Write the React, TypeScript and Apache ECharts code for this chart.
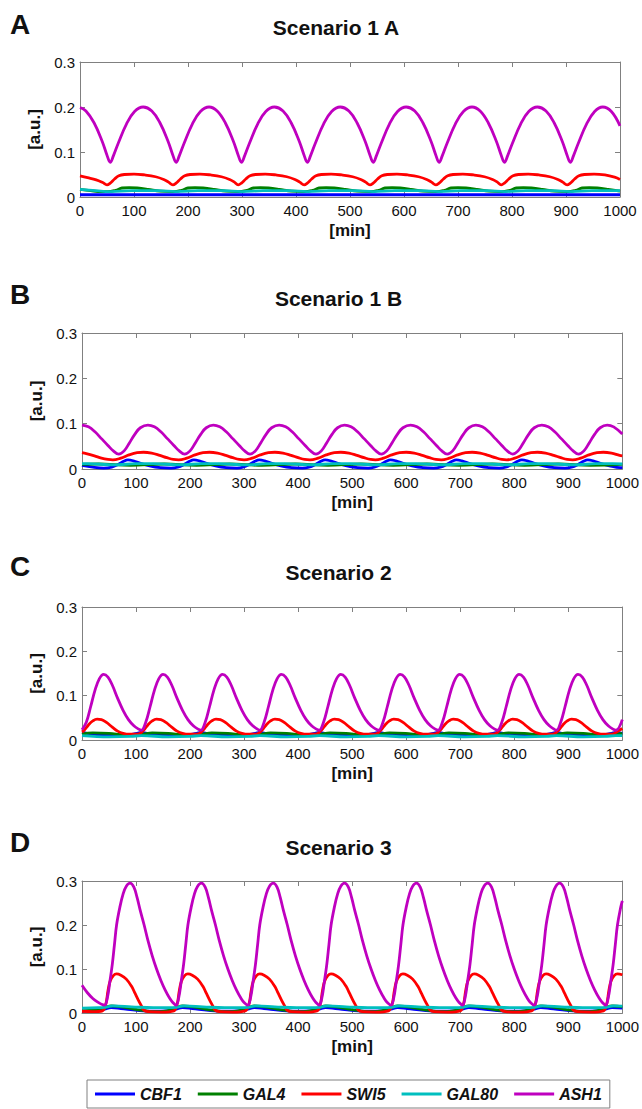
import React, { useEffect, useRef } from "react";
import * as echarts from "echarts";

// ---------- labels ----------
const GENES = ["CBF1", "GAL4", "SWI5", "GAL80", "ASH1"];
const PANEL_LETTERS = ["A", "B", "C", "D"];
const PANEL_TITLES = ["Scenario 1 A", "Scenario 1 B", "Scenario 2", "Scenario 3"];
const X_NAME = "[min]";
const Y_NAME = "[a.u.]";
const X_MIN = 0, X_MAX = 1000, X_STEP = 100;
const Y_MIN = 0, Y_MAX = 0.3, Y_STEP = 0.1;

// ---------- Panel A (Scenario 1 A) ----------
const A_CBF1 = [[0,0.005],[100,0.005],[300,0.005],[500,0.005],[700,0.005],[900,0.005],[1000,0.005]];
const A_GAL4 = [[0,0.017],[20,0.014],[40,0.012],
[51,0.012],[66,0.015],[78,0.020],[91,0.021],[106,0.020],[126,0.017],[148,0.013],
[173,0.012],[188,0.015],[200,0.020],[213,0.021],[228,0.020],[248,0.017],[270,0.013],
[294,0.012],[309,0.015],[321,0.020],[334,0.021],[349,0.020],[369,0.017],[391,0.013],
[416,0.012],[431,0.015],[443,0.020],[456,0.021],[471,0.020],[491,0.017],[513,0.013],
[538,0.012],[553,0.015],[565,0.020],[578,0.021],[593,0.020],[613,0.017],[635,0.013],
[660,0.012],[675,0.015],[687,0.020],[700,0.021],[715,0.020],[735,0.017],[757,0.013],
[781,0.012],[796,0.015],[808,0.020],[821,0.021],[836,0.020],[856,0.017],[878,0.013],
[903,0.012],[918,0.015],[930,0.020],[943,0.021],[958,0.020],[978,0.017],[1000,0.013]];
const A_SWI5 = [[0,0.047],[14,0.043],[30,0.038],[42,0.032],
[50,0.027],[56,0.031],[64,0.040],[72,0.047],[82,0.050],[100,0.051],[120,0.049],[140,0.045],[155,0.039],[164,0.033],
[172,0.027],[178,0.031],[186,0.040],[194,0.047],[204,0.050],[222,0.051],[242,0.049],[262,0.045],[277,0.039],[286,0.033],
[293,0.027],[299,0.031],[307,0.040],[315,0.047],[325,0.050],[343,0.051],[363,0.049],[383,0.045],[398,0.039],[407,0.033],
[415,0.027],[421,0.031],[429,0.040],[437,0.047],[447,0.050],[465,0.051],[485,0.049],[505,0.045],[520,0.039],[529,0.033],
[537,0.027],[543,0.031],[551,0.040],[559,0.047],[569,0.050],[587,0.051],[607,0.049],[627,0.045],[642,0.039],[651,0.033],
[659,0.027],[665,0.031],[673,0.040],[681,0.047],[691,0.050],[709,0.051],[729,0.049],[749,0.045],[764,0.039],[773,0.033],
[780,0.027],[786,0.031],[794,0.040],[802,0.047],[812,0.050],[830,0.051],[850,0.049],[870,0.045],[885,0.039],[894,0.033],
[902,0.027],[908,0.031],[916,0.040],[924,0.047],[934,0.050],[952,0.051],[972,0.049],[990,0.044],[1000,0.039]];
const A_GAL80 = [[0,0.017],[30,0.014],
[56,0.012],[96,0.014],[146,0.014],[178,0.012],[218,0.014],[268,0.014],[299,0.012],[339,0.014],[389,0.014],
[421,0.012],[461,0.014],[511,0.014],[543,0.012],[583,0.014],[633,0.014],[665,0.012],[705,0.014],[755,0.014],
[786,0.012],[826,0.014],[876,0.014],[908,0.012],[948,0.014],[1000,0.014]];
const A_ASH1 = [[0,0.199],[11,0.191],[26,0.165],[41,0.124],[50,0.093],[56,0.077],[62,0.092],[71,0.120],[86,0.162],[101,0.190],[117,0.200],
[133,0.191],[148,0.165],[163,0.124],[172,0.093],[178,0.077],[184,0.092],[193,0.120],[208,0.162],[223,0.190],[239,0.200],
[254,0.191],[269,0.165],[284,0.124],[293,0.093],[299,0.077],[305,0.092],[314,0.120],[329,0.162],[344,0.190],[360,0.200],
[376,0.191],[391,0.165],[406,0.124],[415,0.093],[421,0.077],[427,0.092],[436,0.120],[451,0.162],[466,0.190],[482,0.200],
[498,0.191],[513,0.165],[528,0.124],[537,0.093],[543,0.077],[549,0.092],[558,0.120],[573,0.162],[588,0.190],[604,0.200],
[620,0.191],[635,0.165],[650,0.124],[659,0.093],[665,0.077],[671,0.092],[680,0.120],[695,0.162],[710,0.190],[726,0.200],
[741,0.191],[756,0.165],[771,0.124],[780,0.093],[786,0.077],[792,0.092],[801,0.120],[816,0.162],[831,0.190],[847,0.200],
[863,0.191],[878,0.165],[893,0.124],[902,0.093],[908,0.077],[914,0.092],[923,0.120],[938,0.162],[953,0.190],[968,0.200],
[984,0.190],[1000,0.158]];

// ---------- Panel B (Scenario 1 B) ----------
const B_CBF1 = [[0,0.008],[20,0.004],[40,0.002],[55,0.004],
[67,0.010],[77,0.017],[85,0.020],[95,0.018],[110,0.012],[125,0.007],[145,0.003],[165,0.002],[177,0.004],
[189,0.010],[199,0.017],[207,0.020],[217,0.018],[232,0.012],[247,0.007],[267,0.003],[287,0.002],[298,0.004],
[310,0.010],[320,0.017],[328,0.020],[338,0.018],[353,0.012],[368,0.007],[388,0.003],[408,0.002],[420,0.004],
[432,0.010],[442,0.017],[450,0.020],[460,0.018],[475,0.012],[490,0.007],[510,0.003],[530,0.002],[541,0.004],
[553,0.010],[563,0.017],[571,0.020],[581,0.018],[596,0.012],[611,0.007],[631,0.003],[651,0.002],[663,0.004],
[675,0.010],[685,0.017],[693,0.020],[703,0.018],[718,0.012],[733,0.007],[753,0.003],[773,0.002],[784,0.004],
[796,0.010],[806,0.017],[814,0.020],[824,0.018],[839,0.012],[854,0.007],[874,0.003],[894,0.002],[906,0.004],
[918,0.010],[928,0.017],[936,0.020],[946,0.018],[961,0.012],[976,0.007],[996,0.003],[1000,0.003]];
const B_GAL4 = [[0,0.010],[30,0.011],[90,0.008],[152,0.011],[212,0.008],[273,0.011],[333,0.008],[395,0.011],[455,0.008],
[516,0.011],[576,0.008],[638,0.011],[698,0.008],[759,0.011],[819,0.008],[881,0.011],[941,0.008],[1000,0.010]];
const B_SWI5 = [[0,0.036],[8,0.034],[23,0.029],[36,0.024],[48,0.021],
[57,0.020],[72,0.024],[87,0.031],[102,0.036],[114,0.037],[129,0.035],[144,0.030],[157,0.025],[169,0.021],
[179,0.020],[194,0.024],[209,0.031],[224,0.036],[236,0.037],[251,0.035],[266,0.030],[279,0.025],[291,0.021],
[300,0.020],[315,0.024],[330,0.031],[345,0.036],[357,0.037],[372,0.035],[387,0.030],[400,0.025],[412,0.021],
[422,0.020],[437,0.024],[452,0.031],[467,0.036],[479,0.037],[494,0.035],[509,0.030],[522,0.025],[534,0.021],
[543,0.020],[558,0.024],[573,0.031],[588,0.036],[600,0.037],[615,0.035],[630,0.030],[643,0.025],[655,0.021],
[665,0.020],[680,0.024],[695,0.031],[710,0.036],[722,0.037],[737,0.035],[752,0.030],[765,0.025],[777,0.021],
[786,0.020],[801,0.024],[816,0.031],[831,0.036],[843,0.037],[858,0.035],[873,0.030],[886,0.025],[898,0.021],
[908,0.020],[923,0.024],[938,0.031],[953,0.036],[965,0.037],[980,0.035],[995,0.030],[1000,0.029]];
const B_GAL80 = [[0,0.012],[10,0.012],[60,0.009],[100,0.012],[132,0.012],[182,0.009],[222,0.012],[253,0.012],[303,0.009],
[343,0.012],[375,0.012],[425,0.009],[465,0.012],[496,0.012],[546,0.009],[586,0.012],[618,0.012],[668,0.009],[708,0.012],
[739,0.012],[789,0.009],[829,0.012],[861,0.012],[911,0.009],[951,0.012],[982,0.012],[1000,0.011]];
const B_ASH1 = [[0,0.097],[12,0.093],[24,0.082],[36,0.067],[48,0.052],[58,0.040],[68,0.033],[78,0.040],[88,0.058],[98,0.077],[108,0.091],
[122,0.097],[134,0.093],[146,0.082],[158,0.067],[170,0.052],[180,0.040],[190,0.033],[200,0.040],[210,0.058],[220,0.077],[230,0.091],
[243,0.097],[255,0.093],[267,0.082],[279,0.067],[291,0.052],[301,0.040],[311,0.033],[321,0.040],[331,0.058],[341,0.077],[351,0.091],
[365,0.097],[377,0.093],[389,0.082],[401,0.067],[413,0.052],[423,0.040],[433,0.033],[443,0.040],[453,0.058],[463,0.077],[473,0.091],
[486,0.097],[498,0.093],[510,0.082],[522,0.067],[534,0.052],[544,0.040],[554,0.033],[564,0.040],[574,0.058],[584,0.077],[594,0.091],
[608,0.097],[620,0.093],[632,0.082],[644,0.067],[656,0.052],[666,0.040],[676,0.033],[686,0.040],[696,0.058],[706,0.077],[716,0.091],
[729,0.097],[741,0.093],[753,0.082],[765,0.067],[777,0.052],[787,0.040],[797,0.033],[807,0.040],[817,0.058],[827,0.077],[837,0.091],
[851,0.097],[863,0.093],[875,0.082],[887,0.067],[899,0.052],[909,0.040],[919,0.033],[929,0.040],[939,0.058],[949,0.077],[959,0.091],
[972,0.097],[984,0.093],[1000,0.077]];

// ---------- Panel C (Scenario 2) ----------
const C_CBF1 = [[0,0.017],[10,0.015],[40,0.011],[80,0.011],[102,0.015],[110,0.017],[120,0.015],[150,0.011],[190,0.011],
[212,0.015],[220,0.017],[230,0.015],[260,0.011],[300,0.011],[321,0.015],[329,0.017],[339,0.015],[369,0.011],[409,0.011],
[431,0.015],[439,0.017],[449,0.015],[479,0.011],[519,0.011],[541,0.015],[549,0.017],[559,0.015],[589,0.011],[629,0.011],
[651,0.015],[659,0.017],[669,0.015],[699,0.011],[739,0.011],[761,0.015],[769,0.017],[779,0.015],[809,0.011],[849,0.011],
[870,0.015],[878,0.017],[888,0.015],[918,0.011],[958,0.011],[980,0.015],[988,0.017],[1000,0.015]];
const C_GAL4 = [[0,0.013],[20,0.016],[50,0.015],[80,0.012],[110,0.013],[130,0.016],[160,0.015],[190,0.012],
[220,0.013],[240,0.016],[270,0.015],[300,0.012],[329,0.013],[349,0.016],[379,0.015],[409,0.012],
[439,0.013],[459,0.016],[489,0.015],[519,0.012],[549,0.013],[569,0.016],[599,0.015],[629,0.012],
[659,0.013],[679,0.016],[709,0.015],[739,0.012],[769,0.013],[789,0.016],[819,0.015],[849,0.012],
[878,0.013],[898,0.016],[928,0.015],[958,0.012],[988,0.013],[1000,0.015]];
const C_SWI5 = [[0,0.018],[4,0.022],[12,0.034],[20,0.043],[28,0.047],[36,0.046],[46,0.039],[56,0.029],[66,0.020],[76,0.015],[88,0.013],[100,0.013],
[106,0.014],[114,0.022],[122,0.034],[130,0.043],[138,0.047],[146,0.046],[156,0.039],[166,0.029],[176,0.020],[186,0.015],[198,0.013],[210,0.013],
[216,0.014],[224,0.022],[232,0.034],[240,0.043],[248,0.047],[256,0.046],[266,0.039],[276,0.029],[286,0.020],[296,0.015],[308,0.013],[320,0.013],
[325,0.014],[333,0.022],[341,0.034],[349,0.043],[357,0.047],[365,0.046],[375,0.039],[385,0.029],[395,0.020],[405,0.015],[417,0.013],[429,0.013],
[435,0.014],[443,0.022],[451,0.034],[459,0.043],[467,0.047],[475,0.046],[485,0.039],[495,0.029],[505,0.020],[515,0.015],[527,0.013],[539,0.013],
[545,0.014],[553,0.022],[561,0.034],[569,0.043],[577,0.047],[585,0.046],[595,0.039],[605,0.029],[615,0.020],[625,0.015],[637,0.013],[649,0.013],
[655,0.014],[663,0.022],[671,0.034],[679,0.043],[687,0.047],[695,0.046],[705,0.039],[715,0.029],[725,0.020],[735,0.015],[747,0.013],[759,0.013],
[765,0.014],[773,0.022],[781,0.034],[789,0.043],[797,0.047],[805,0.046],[815,0.039],[825,0.029],[835,0.020],[845,0.015],[857,0.013],[869,0.013],
[874,0.014],[882,0.022],[890,0.034],[898,0.043],[906,0.047],[914,0.046],[924,0.039],[934,0.029],[944,0.020],[954,0.015],[966,0.013],[978,0.013],
[984,0.014],[992,0.020],[1000,0.026]];
const C_GAL80 = [[0,0.010],[50,0.007],[90,0.008],[110,0.010],[160,0.007],[200,0.008],[220,0.010],[270,0.007],[310,0.008],
[329,0.010],[379,0.007],[419,0.008],[439,0.010],[489,0.007],[529,0.008],[549,0.010],[599,0.007],[639,0.008],
[659,0.010],[709,0.007],[749,0.008],[769,0.010],[819,0.007],[859,0.008],[878,0.010],[928,0.007],[968,0.008],[988,0.010],[1000,0.010]];
const C_ASH1 = [[0,0.023],[8,0.040],[16,0.075],[24,0.112],[32,0.138],[40,0.148],[48,0.142],[56,0.124],[66,0.094],[76,0.067],[86,0.046],[96,0.032],[104,0.025],
[110,0.022],[118,0.040],[126,0.075],[134,0.112],[142,0.138],[150,0.148],[158,0.142],[166,0.124],[176,0.094],[186,0.067],[196,0.046],[206,0.032],[214,0.025],
[220,0.022],[228,0.040],[236,0.075],[244,0.112],[252,0.138],[260,0.148],[268,0.142],[276,0.124],[286,0.094],[296,0.067],[306,0.046],[316,0.032],[324,0.025],
[329,0.022],[337,0.040],[345,0.075],[353,0.112],[361,0.138],[369,0.148],[377,0.142],[385,0.124],[395,0.094],[405,0.067],[415,0.046],[425,0.032],[433,0.025],
[439,0.022],[447,0.040],[455,0.075],[463,0.112],[471,0.138],[479,0.148],[487,0.142],[495,0.124],[505,0.094],[515,0.067],[525,0.046],[535,0.032],[543,0.025],
[549,0.022],[557,0.040],[565,0.075],[573,0.112],[581,0.138],[589,0.148],[597,0.142],[605,0.124],[615,0.094],[625,0.067],[635,0.046],[645,0.032],[653,0.025],
[659,0.022],[667,0.040],[675,0.075],[683,0.112],[691,0.138],[699,0.148],[707,0.142],[715,0.124],[725,0.094],[735,0.067],[745,0.046],[755,0.032],[763,0.025],
[769,0.022],[777,0.040],[785,0.075],[793,0.112],[801,0.138],[809,0.148],[817,0.142],[825,0.124],[835,0.094],[845,0.067],[855,0.046],[865,0.032],[873,0.025],
[878,0.022],[886,0.040],[894,0.075],[902,0.112],[910,0.138],[918,0.148],[926,0.142],[934,0.124],[944,0.094],[954,0.067],[964,0.046],[974,0.032],[982,0.025],
[988,0.022],[1000,0.046]];

// ---------- Panel D (Scenario 3) ----------
const D_CBF1 = [[0,0.004],[25,0.005],
[42,0.009],[54,0.012],[72,0.010],[102,0.006],[132,0.004],[157,0.005],[170,0.008],
[174,0.009],[186,0.012],[204,0.010],[234,0.006],[264,0.004],[289,0.005],[302,0.008],
[307,0.009],[319,0.012],[337,0.010],[367,0.006],[397,0.004],[422,0.005],[435,0.008],
[439,0.009],[451,0.012],[469,0.010],[499,0.006],[529,0.004],[554,0.005],[567,0.008],
[572,0.009],[584,0.012],[602,0.010],[632,0.006],[662,0.004],[687,0.005],[700,0.008],
[704,0.009],[716,0.012],[734,0.010],[764,0.006],[794,0.004],[819,0.005],[832,0.008],
[837,0.009],[849,0.012],[867,0.010],[897,0.006],[927,0.004],[952,0.005],[965,0.008],
[969,0.009],[981,0.012],[1000,0.011]];
const D_GAL4 = [[0,0.005],[24,0.007],
[42,0.012],[54,0.016],[67,0.015],[87,0.011],[112,0.006],[137,0.003],[157,0.005],[169,0.009],
[174,0.012],[186,0.016],[199,0.015],[219,0.011],[244,0.006],[269,0.003],[289,0.005],[301,0.009],
[307,0.012],[319,0.016],[332,0.015],[352,0.011],[377,0.006],[402,0.003],[422,0.005],[434,0.009],
[439,0.012],[451,0.016],[464,0.015],[484,0.011],[509,0.006],[534,0.003],[554,0.005],[566,0.009],
[572,0.012],[584,0.016],[597,0.015],[617,0.011],[642,0.006],[667,0.003],[687,0.005],[699,0.009],
[704,0.012],[716,0.016],[729,0.015],[749,0.011],[774,0.006],[799,0.003],[819,0.005],[831,0.009],
[837,0.012],[849,0.016],[862,0.015],[882,0.011],[907,0.006],[932,0.003],[952,0.005],[964,0.009],
[969,0.012],[981,0.016],[994,0.015],[1000,0.014]];
const D_SWI5 = [[0,0.004],[20,0.003],[38,0.005],
[44,0.020],[48,0.050],[52,0.072],[58,0.085],[64,0.089],[72,0.086],[82,0.077],[92,0.060],[98,0.045],[104,0.030],[110,0.016],[114,0.007],[122,0.003],[147,0.002],[170,0.005],
[176,0.020],[180,0.050],[184,0.072],[190,0.085],[196,0.089],[204,0.086],[214,0.077],[224,0.060],[230,0.045],[236,0.030],[242,0.016],[246,0.007],[254,0.003],[279,0.002],[302,0.005],
[309,0.020],[313,0.050],[317,0.072],[323,0.085],[329,0.089],[337,0.086],[347,0.077],[357,0.060],[363,0.045],[369,0.030],[375,0.016],[379,0.007],[387,0.003],[412,0.002],[435,0.005],
[441,0.020],[445,0.050],[449,0.072],[455,0.085],[461,0.089],[469,0.086],[479,0.077],[489,0.060],[495,0.045],[501,0.030],[507,0.016],[511,0.007],[519,0.003],[544,0.002],[567,0.005],
[574,0.020],[578,0.050],[582,0.072],[588,0.085],[594,0.089],[602,0.086],[612,0.077],[622,0.060],[628,0.045],[634,0.030],[640,0.016],[644,0.007],[652,0.003],[677,0.002],[700,0.005],
[706,0.020],[710,0.050],[714,0.072],[720,0.085],[726,0.089],[734,0.086],[744,0.077],[754,0.060],[760,0.045],[766,0.030],[772,0.016],[776,0.007],[784,0.003],[809,0.002],[832,0.005],
[839,0.020],[843,0.050],[847,0.072],[853,0.085],[859,0.089],[867,0.086],[877,0.077],[887,0.060],[893,0.045],[899,0.030],[905,0.016],[909,0.007],[917,0.003],[942,0.002],[965,0.005],
[971,0.020],[975,0.050],[979,0.072],[985,0.085],[991,0.089],[1000,0.087]];
const D_GAL80 = [[0,0.011],[30,0.012],
[42,0.013],[57,0.016],[92,0.014],[132,0.012],[162,0.012],
[174,0.013],[189,0.016],[224,0.014],[264,0.012],[294,0.012],
[307,0.013],[322,0.016],[357,0.014],[397,0.012],[427,0.012],
[439,0.013],[454,0.016],[489,0.014],[529,0.012],[559,0.012],
[572,0.013],[587,0.016],[622,0.014],[662,0.012],[692,0.012],
[704,0.013],[719,0.016],[754,0.014],[794,0.012],[824,0.012],
[837,0.013],[852,0.016],[887,0.014],[927,0.012],[957,0.012],
[969,0.013],[984,0.016],[1000,0.0155]];
const D_ASH1 = [[0,0.063],[10,0.046],[20,0.033],[30,0.024],[36,0.020],
[42,0.018],[47,0.035],[52,0.075],[56,0.110],[60,0.155],[64,0.200],[70,0.240],[76,0.270],[82,0.288],[89,0.295],[96,0.286],[102,0.262],[108,0.232],[115,0.200],[122,0.165],[130,0.130],[138,0.100],[146,0.074],[154,0.052],[162,0.034],[168,0.024],
[174,0.018],[179,0.035],[184,0.075],[188,0.110],[192,0.155],[196,0.200],[202,0.240],[208,0.270],[214,0.288],[221,0.295],[228,0.286],[234,0.262],[240,0.232],[247,0.200],[254,0.165],[262,0.130],[270,0.100],[278,0.074],[286,0.052],[294,0.034],[300,0.024],
[307,0.018],[312,0.035],[317,0.075],[321,0.110],[325,0.155],[329,0.200],[335,0.240],[341,0.270],[347,0.288],[354,0.295],[361,0.286],[367,0.262],[373,0.232],[380,0.200],[387,0.165],[395,0.130],[403,0.100],[411,0.074],[419,0.052],[427,0.034],[433,0.024],
[439,0.018],[444,0.035],[449,0.075],[453,0.110],[457,0.155],[461,0.200],[467,0.240],[473,0.270],[479,0.288],[486,0.295],[493,0.286],[499,0.262],[505,0.232],[512,0.200],[519,0.165],[527,0.130],[535,0.100],[543,0.074],[551,0.052],[559,0.034],[565,0.024],
[572,0.018],[577,0.035],[582,0.075],[586,0.110],[590,0.155],[594,0.200],[600,0.240],[606,0.270],[612,0.288],[619,0.295],[626,0.286],[632,0.262],[638,0.232],[645,0.200],[652,0.165],[660,0.130],[668,0.100],[676,0.074],[684,0.052],[692,0.034],[698,0.024],
[704,0.018],[709,0.035],[714,0.075],[718,0.110],[722,0.155],[726,0.200],[732,0.240],[738,0.270],[744,0.288],[751,0.295],[758,0.286],[764,0.262],[770,0.232],[777,0.200],[784,0.165],[792,0.130],[800,0.100],[808,0.074],[816,0.052],[824,0.034],[830,0.024],
[837,0.018],[842,0.035],[847,0.075],[851,0.110],[855,0.155],[859,0.200],[865,0.240],[871,0.270],[877,0.288],[884,0.295],[891,0.286],[897,0.262],[903,0.232],[910,0.200],[917,0.165],[925,0.130],[933,0.100],[941,0.074],[949,0.052],[957,0.034],[963,0.024],
[969,0.018],[974,0.035],[979,0.075],[983,0.110],[987,0.155],[991,0.200],[997,0.240],[1000,0.255]];

const PANEL_DATA = [
  [A_CBF1, A_GAL4, A_SWI5, A_GAL80, A_ASH1],
  [B_CBF1, B_GAL4, B_SWI5, B_GAL80, B_ASH1],
  [C_CBF1, C_GAL4, C_SWI5, C_GAL80, C_ASH1],
  [D_CBF1, D_GAL4, D_SWI5, D_GAL80, D_ASH1],
];

// ---------- styling / layout ----------
const COLORS = ["#0000ff", "#008000", "#ff0000", "#00bfbf", "#bf00bf"];
const GRIDS = [
  { left: 80, top: 62, width: 540, height: 135 },
  { left: 82, top: 333, width: 541, height: 136 },
  { left: 82, top: 607, width: 541, height: 133 },
  { left: 82, top: 881, width: 541, height: 132 },
];
const TITLE_Y = [27, 298, 572, 847];
const LETTER_Y = [24, 294, 566, 842];
const FONT = "'Liberation Sans', Arial, Helvetica, sans-serif";
const FRAME = "#808080";
const TEXT = "#111";

export default function App() {
  const ref = useRef<HTMLDivElement>(null);
  useEffect(() => {
    if (!ref.current) return;
    const chart = echarts.init(ref.current, undefined, { renderer: "svg" });
    const xAxes: any[] = [];
    const yAxes: any[] = [];
    const series: any[] = [];
    const graphics: any[] = [];
    GRIDS.forEach((g, i) => {
      xAxes.push({
        type: "value", gridIndex: i, min: X_MIN, max: X_MAX, interval: X_STEP, position: "bottom",
        name: X_NAME, nameLocation: "middle", nameGap: 25,
        nameTextStyle: { fontFamily: FONT, fontSize: 17, fontWeight: "bold", color: TEXT },
        axisLine: { show: true, onZero: false, lineStyle: { color: FRAME, width: 1 } },
        axisTick: { show: true, inside: true, length: 5, lineStyle: { color: FRAME } },
        axisLabel: { fontFamily: FONT, fontSize: 15, color: TEXT, margin: 6, formatter: (v: number) => String(v) },
        splitLine: { show: false },
      });
      yAxes.push({
        type: "value", gridIndex: i, min: Y_MIN, max: Y_MAX, interval: Y_STEP, position: "left",
        name: Y_NAME, nameLocation: "middle", nameGap: 34, nameRotate: 90,
        nameTextStyle: { fontFamily: FONT, fontSize: 17, fontWeight: "bold", color: TEXT },
        axisLine: { show: true, onZero: false, lineStyle: { color: FRAME, width: 1 } },
        axisTick: { show: true, inside: true, length: 5, lineStyle: { color: FRAME } },
        axisLabel: { fontFamily: FONT, fontSize: 15, color: TEXT, margin: 5, formatter: (v: number) => String(+v.toFixed(1)) },
        splitLine: { show: false },
      });
      graphics.push({
        type: "text", x: g.left + g.width / 2 - 14, y: TITLE_Y[i],
        style: { text: PANEL_TITLES[i], align: "center", verticalAlign: "middle", fontFamily: FONT, fontSize: 21, fontWeight: "bold", fill: TEXT },
      });
      graphics.push({
        type: "text", x: 10, y: LETTER_Y[i],
        style: { text: PANEL_LETTERS[i], align: "left", verticalAlign: "middle", fontFamily: FONT, fontSize: 28, fontWeight: "bold", fill: TEXT },
      });
      PANEL_DATA[i].forEach((d, k) => {
        series.push({
          type: "line", name: GENES[k], xAxisIndex: i, yAxisIndex: i, data: d,
          showSymbol: false, smooth: 0.4, clip: true, silent: true,
          lineStyle: { color: COLORS[k], width: 2.8 }, itemStyle: { color: COLORS[k] },
        });
      });
    });
    // mirrored axes (top / right) for the boxed frame with inward ticks
    GRIDS.forEach((g, i) => {
      xAxes.push({
        type: "value", gridIndex: i, min: X_MIN, max: X_MAX, interval: X_STEP, position: "top",
        axisLine: { show: true, onZero: false, lineStyle: { color: FRAME, width: 1 } },
        axisTick: { show: true, inside: true, length: 5, lineStyle: { color: FRAME } },
        axisLabel: { show: false }, splitLine: { show: false },
      });
      yAxes.push({
        type: "value", gridIndex: i, min: Y_MIN, max: Y_MAX, interval: Y_STEP, position: "right",
        axisLine: { show: true, onZero: false, lineStyle: { color: FRAME, width: 1 } },
        axisTick: { show: true, inside: true, length: 5, lineStyle: { color: FRAME } },
        axisLabel: { show: false }, splitLine: { show: false },
      });
    });
    chart.setOption({
      animation: false,
      backgroundColor: "#ffffff",
      grid: GRIDS.map((g) => ({ ...g, containLabel: false })),
      xAxis: xAxes,
      yAxis: yAxes,
      series,
      graphic: graphics,
      legend: {
        data: GENES.map((n) => ({ name: n, icon: "rect" })),
        left: 87, top: 1080, orient: "horizontal",
        itemWidth: 40, itemHeight: 3, itemGap: 16,
        padding: [5, 8, 5, 8],
        borderColor: FRAME, borderWidth: 1,
        selectedMode: false,
        textStyle: { fontFamily: FONT, fontSize: 16, fontWeight: "bold", fontStyle: "italic", color: TEXT, lineHeight: 18 },
      },
    });
    return () => chart.dispose();
  }, []);
  return <div ref={ref} style={{ position: "absolute", left: 0, top: 0, width: 642, height: 1109 }} />;
}
